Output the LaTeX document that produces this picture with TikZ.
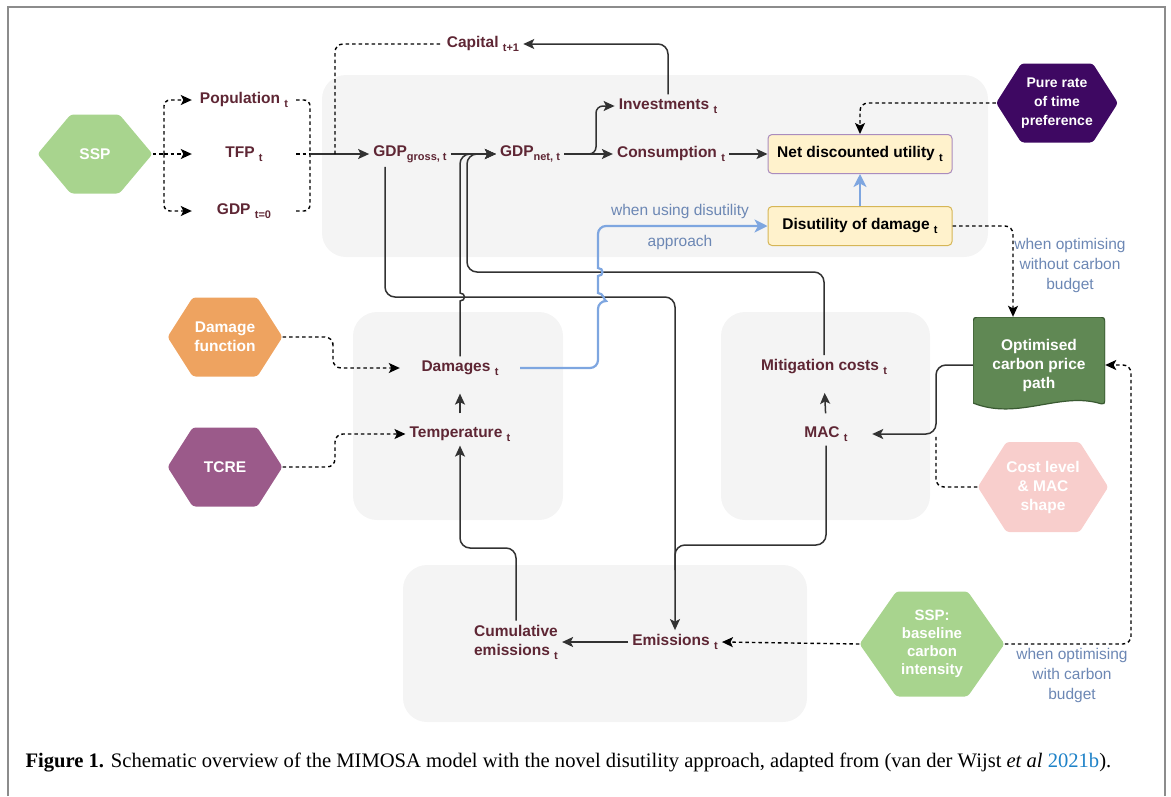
\documentclass[tikz,border=0pt]{standalone}
\usepackage{fontspec}
\setmainfont{Liberation Serif}
\setsansfont{Liberation Sans}
\usetikzlibrary{arrows.meta,shapes.symbols}

\definecolor{vartext}{RGB}{94,38,52}
\definecolor{panelgray}{RGB}{244,244,244}
\definecolor{sspgreen}{RGB}{168,212,142}
\definecolor{dmgorange}{RGB}{238,163,96}
\definecolor{tcrepurple}{RGB}{155,90,138}
\definecolor{prtppurple}{RGB}{62,8,98}
\definecolor{optgreen}{RGB}{96,136,84}
\definecolor{optline}{RGB}{58,90,50}
\definecolor{costpink}{RGB}{248,206,204}
\definecolor{boxyellow}{RGB}{255,242,204}
\definecolor{boxline}{RGB}{214,182,86}
\definecolor{utilline}{RGB}{170,140,190}
\definecolor{disblue}{RGB}{126,166,224}
\definecolor{notetext}{RGB}{108,135,180}
\definecolor{citeblue}{RGB}{30,130,200}
\definecolor{framegray}{RGB}{140,140,140}
\definecolor{linegray}{RGB}{50,50,50}

\newcommand\subidx[1]{\raisebox{-0.5ex}{\fontsize{11}{11}\selectfont #1}}

\begin{document}
\begin{tikzpicture}[%
      x=1pt, y=-1pt,
      every node/.style={font=\sffamily\bfseries\fontsize{15.5}{19}\selectfont, align=center},
      var/.style={text=vartext, inner sep=4pt},
      driver/.style={var, minimum width=104pt},
      hexa/.style={signal, signal to=east and west, signal pointer angle=115,
                   minimum width=115pt, minimum height=79pt, inner sep=0pt,
                   text=white, rounded corners=3pt},
      ybox/.style={rectangle, rounded corners=4pt, fill=boxyellow, draw=boxline,
                   line width=1pt, text=black, minimum width=184pt, minimum height=39pt},
      opt/.style={rectangle, minimum width=132pt, minimum height=96pt, inner sep=0pt,
                  text=white, fill=white,
                  path picture={\filldraw[fill=optgreen, draw=optline, line width=1.2pt]
                    ([yshift=10pt]path picture bounding box.south west) [rounded corners=4pt]
                    -- (path picture bounding box.north west)
                    -- (path picture bounding box.north east)
                    -- ([yshift=8pt]path picture bounding box.south east) [sharp corners]
                    .. controls ([xshift=-45pt,yshift=22pt]path picture bounding box.south east)
                    and ([xshift=45pt,yshift=-8pt]path picture bounding box.south west)
                    .. ([yshift=10pt]path picture bounding box.south west) -- cycle;}},
      hint/.style={font=\sffamily\fontsize{15.5}{20}\selectfont, text=notetext},
      panel/.style={fill=panelgray, rounded corners=24pt},
      wire/.style={draw=linegray, line width=1.5pt},
      dashline/.style={draw=black, line width=1.4pt, dash pattern=on 3.5pt off 3pt},
      bluewire/.style={draw=disblue, line width=2.2pt},
      arr/.style={-{Stealth[length=11pt,width=10pt,inset=2.5pt]}},
      bluearr/.style={-{Stealth[length=13pt,width=13pt,inset=3.5pt]}},
      vshort/.style={shorten <=9pt, shorten >=14pt}
    ]
    \useasboundingbox (0,0) rectangle (1171,796);
    \draw[framegray, line width=1.5pt] (8,796) -- (8,7) -- (1165,7) -- (1165,796);

    \fill[panel] (322,75) rectangle (988,257);
    \fill[panel] (353,312) rectangle (563,520);
    \fill[panel] (721,312) rectangle (930,520);
    \fill[panel] (403,565) rectangle (807,722);

    \node[hexa, signal pointer angle=100, fill=sspgreen] (ssp) at (95,154) {SSP};
    \node[driver] (pop) at (244,100) {Population \subidx{t}};
    \node[driver] (tfp) at (244,154) {TFP \subidx{t}};
    \node[driver] (gdp0) at (244,211) {GDP \subidx{t=0}};
    \node[var] (gross) at (410,154) {GDP\subidx{gross, t}};
    \node[var] (net) at (530,154) {GDP\subidx{net, t}};
    \node[var] (cap) at (483,44) {Capital \subidx{t+1}};
    \node[var] (inv) at (668,106) {Investments \subidx{t}};
    \node[var] (cons) at (671,154) {Consumption \subidx{t}};
    \node[ybox, draw=utilline] (util) at (860,154) {Net discounted utility \subidx{t}};
    \node[ybox] (dis) at (860,226) {Disutility of damage \subidx{t}};
    \node[hexa, fill=prtppurple, font=\sffamily\bfseries\fontsize{14}{19}\selectfont]
      (prtp) at (1057,103) {Pure rate\\of time\\preference};
    \node[hexa, fill=dmgorange] (dmgfun) at (225,337) {Damage\\function};
    \node[hexa, fill=tcrepurple] (tcre) at (225,467) {TCRE};
    \node[var, minimum width=120pt] (dam) at (460,368) {Damages \subidx{t}};
    \node[var] (temp) at (460,434) {Temperature \subidx{t}};
    \node[var] (mit) at (824,367) {Mitigation costs \subidx{t}};
    \node[var, minimum width=92pt] (mac) at (826,434) {MAC \subidx{t}};
    \node[opt] (opt) at (1039,365) {Optimised\\carbon price\\path};
    \node[hexa, fill=costpink, minimum width=130pt, minimum height=90pt]
      (cost) at (1043,487) {Cost level\\\& MAC\\shape};
    \node[var] (cum) at (516,642) {Cumulative\\emissions \subidx{t}};
    \node[var] (emis) at (675,642) {Emissions \subidx{t}};
    \node[hexa, signal pointer angle=110, fill=sspgreen, minimum width=145pt,
          minimum height=105pt, font=\sffamily\bfseries\fontsize{15}{18}\selectfont]
      (ssp2) at (932,644) {SSP:\\baseline\\carbon\\intensity};

    \coordinate (sspfork) at (164,154);
    \coordinate (popjoin) at (310,154);
    \coordinate (capfork) at (335,154);
    \coordinate (netfork) at (582,154);
    \coordinate (costjoin) at (936,434);
    \coordinate (rail) at (1131,500);

    \draw[dashline] (ssp.east) -- (sspfork);
    \draw[dashline, arr, rounded corners=6pt] (sspfork) |- (pop.west);
    \draw[dashline, arr] (sspfork) -- (tfp.west);
    \draw[dashline, arr, rounded corners=6pt] (sspfork) |- (gdp0.west);
    \draw[dashline, rounded corners=6pt] (pop.east) -| (popjoin);
    \draw[dashline] (tfp.east) -- (popjoin);
    \draw[dashline, rounded corners=6pt] (gdp0.east) -| (popjoin);
    \draw[wire, arr] (popjoin) -- (gross.west);
    \draw[dashline, rounded corners=8pt] (capfork) |- (cap.west);

    \draw[wire, arr] (gross.east) -- (net.west);
    \draw[wire, arr] (net.east) -- (cons.west);
    \draw[wire, arr, rounded corners=7pt] (netfork) -| (596,130) |- (inv.west);
    \draw[wire, arr, rounded corners=10pt] (inv.north) |- (cap.east);
    \draw[wire, arr] (cons.east) -- (util.west);
    \draw[bluewire, bluearr] (dis.north) -- (util.south);
    \draw[dashline, arr, rounded corners=8pt] (prtp.west) -| (util.north);
    \draw[dashline, arr, rounded corners=8pt] (dis.east) -| ([xshift=-26pt]opt.north);
    \node[hint] (hintnocb) at (1070,265) {when optimising\\without carbon\\budget};

    \draw[dashline, arr, rounded corners=8pt] (dmgfun.east) -| (333,350) |- (dam.west);
    \draw[dashline, arr, rounded corners=8pt] (tcre.east) -| (335,450) |- (temp.west);
    \draw[wire, arr, vshort] (temp.north) -- (dam.south);
    \draw[wire, arr, vshort] (mac.north) -- (mit.south);
    \draw[wire, arr, rounded corners=10pt] (opt.west) -| (costjoin) -- (mac.east);
    \draw[dashline, rounded corners=8pt] (cost.west) -| (costjoin);

    \draw[wire, arr, rounded corners=10pt] (mit.north) |- (467,272) |- (net.west);
    \draw[wire, arr] (dam.north) -- (460,301) .. controls (466,301) and (466,293) .. (460,293)
      -- (460,290) [rounded corners=10pt] |- (net.west);
    \draw[wire, arr, rounded corners=10pt] ([xshift=-25pt]gross.south) |- (675,297) -- (emis.north);
    \draw[wire, rounded corners=10pt] (mac.south) |- (675,545) -- (675,570);
    \draw[wire, arr, rounded corners=10pt] (cum.north) |- (460,548) -- (temp.south);
    \draw[wire, arr] (emis.west) -- (cum.east);
    \draw[dashline, arr] (ssp2.west) -- (emis.east);
    \draw[dashline, arr, rounded corners=8pt] (ssp2.east) -| (rail) |- (opt.east);
    \node[hint] (hintcb) at (1072,675) {when optimising\\with carbon\\budget};

    \draw[bluewire, bluearr] (dam.east) [rounded corners=8pt] -| (598,301) [sharp corners]
      .. controls (604,301) and (604,293) .. (598,293) -- (598,276)
      .. controls (604,276) and (604,268) .. (598,268) -- (598,265)
      [rounded corners=8pt] -- (598,226) -- (dis.west);
    \node[hint] (hintusing) at (680,211) {when using disutility};
    \node[hint] (hintappr) at (680,242) {approach};

    \node[anchor=base west, font=\rmfamily\fontsize{20.6}{24}\selectfont, text=black]
      (caption) at (22,767) {\textbf{Figure 1.} Schematic overview of the MIMOSA model
      with the novel disutility approach, adapted from (van der Wijst \textit{et al}
      \textcolor{citeblue}{2021b}).};
   \end{tikzpicture}
\end{document}
